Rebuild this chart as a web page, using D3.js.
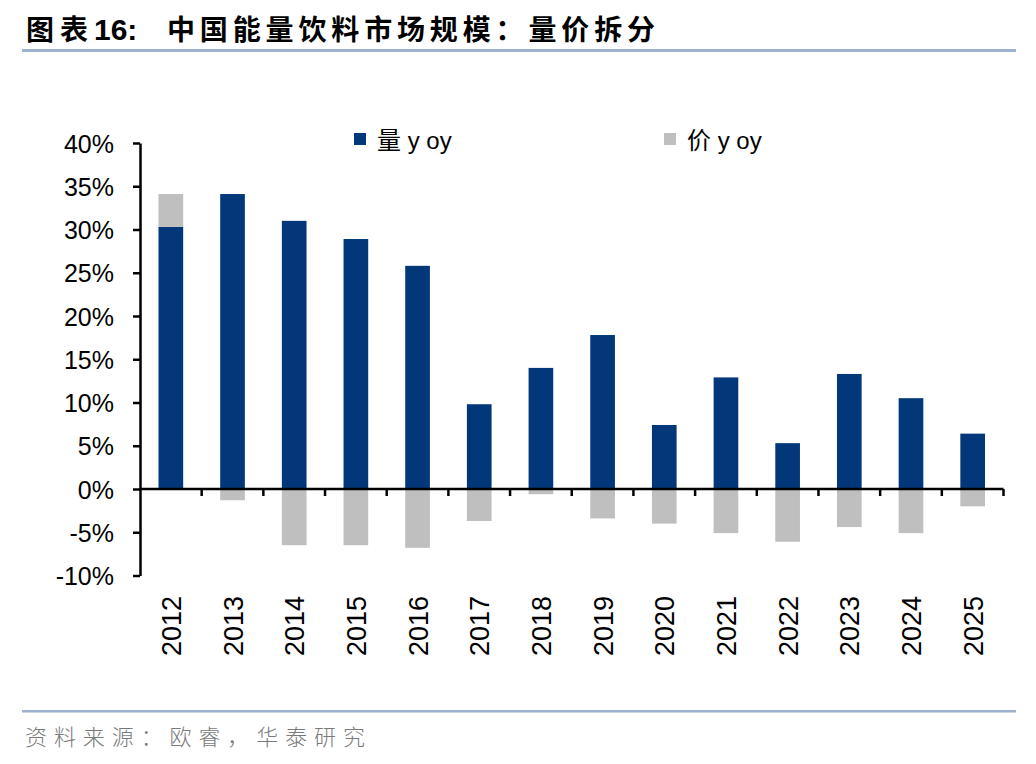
<!DOCTYPE html>
<html><head><meta charset="utf-8">
<script src="https://cdn.jsdelivr.net/npm/d3@7"></script>
<style>
html,body{margin:0;padding:0;background:#fff;}
svg{display:block;}
</style></head>
<body>
<svg id="c" width="1036" height="764"></svg>
<script>
const years = ["2012","2013","2014","2015","2016","2017","2018","2019","2020","2021","2022","2023","2024","2025"];
const volumeYoy = [30.3, 34.1, 31.0, 28.9, 25.8, 9.8, 14.0, 17.8, 7.4, 12.9, 5.3, 13.3, 10.5, 6.4];
const priceYoy  = [3.8, -1.3, -6.5, -6.5, -6.8, -3.7, -0.6, -3.4, -4.0, -5.1, -6.1, -4.4, -5.1, -2.0];
const yTicks = [-10, -5, 0, 5, 10, 15, 20, 25, 30, 35, 40];
const seriesNames = ["量 y oy", "价 y oy"];
const seriesKeys = ["vol", "price"];
const colors = ["#02387A", "#BFBFBF"];
const titlePrefix = "图表";
const titleNumber = "16:";
const titleMain = "中国能量饮料市场规模：量价拆分";
const sourceText = "资料来源：欧睿，华泰研究";

const svg = d3.select("#c");
const font = "'Liberation Sans', Arial, sans-serif";
const cjk = "'Noto Sans CJK SC', sans-serif";

// title
svg.append("text").attr("x", 26).attr("y", 40)
  .attr("font-family", cjk).attr("font-weight", "bold")
  .attr("font-size", 28).attr("fill", "#000")
  .attr("textLength", 62).attr("lengthAdjust", "spacing")
  .text(titlePrefix);
svg.append("text").attr("x", 94).attr("y", 40)
  .attr("font-family", font).attr("font-weight", "bold")
  .attr("font-size", 30).attr("fill", "#000")
  .text(titleNumber);
svg.append("text").attr("x", 167).attr("y", 40)
  .attr("font-family", cjk).attr("font-weight", "bold")
  .attr("font-size", 28).attr("fill", "#000")
  .attr("textLength", 488).attr("lengthAdjust", "spacing")
  .text(titleMain);
svg.append("rect").attr("x", 22).attr("y", 49).attr("width", 994).attr("height", 3).attr("fill", "#9CB2CC");

// footer
svg.append("rect").attr("x", 22).attr("y", 710).attr("width", 994).attr("height", 2.5).attr("fill", "#9CB2CC");
svg.append("text").attr("x", 25).attr("y", 745)
  .attr("font-family", cjk).attr("font-weight", 300)
  .attr("font-size", 22).attr("fill", "#7a7a7a")
  .attr("textLength", 340).attr("lengthAdjust", "spacing")
  .text(sourceText);

const x0 = 140, x1 = 1003.5;
const y = d3.scaleLinear().domain([-10, 40]).range([575.5, 143]);
const x = d3.scaleBand().domain(years).range([x0, x1]).paddingInner(0.6).paddingOuter(0.3);

const data = years.map((yr, i) => ({year: yr, vol: volumeYoy[i], price: priceYoy[i]}));
const stack = d3.stack().keys(seriesKeys).offset(d3.stackOffsetDiverging)(data);

const g = svg.append("g");
stack.forEach((s, si) => {
  g.append("g").attr("fill", colors[si]).selectAll("rect").data(s).join("rect")
    .attr("x", d => x(d.data.year))
    .attr("width", x.bandwidth())
    .attr("y", d => y(Math.max(d[0], d[1])))
    .attr("height", d => Math.abs(y(d[0]) - y(d[1])));
});

// y axis
const yAxis = d3.axisLeft(y).tickValues(yTicks).tickFormat(d => d + "%").tickSize(7).tickSizeOuter(0);
const ya = svg.append("g").attr("transform", `translate(${x0},0)`).call(yAxis);
ya.select(".domain").attr("stroke", "#000").attr("stroke-width", 2.5);
ya.selectAll(".tick line").attr("stroke", "#000").attr("stroke-width", 2.5);
ya.selectAll(".tick text").attr("font-family", font).attr("font-size", 25).attr("fill", "#000")
  .attr("x", -26).attr("dy", "0.36em");

// x axis at zero
const zeroY = y(0);
const xa = svg.append("g").attr("transform", `translate(0,${zeroY})`);
xa.append("line").attr("x1", x0).attr("x2", x1).attr("stroke", "#000").attr("stroke-width", 2.5);
const step = x.step();
const bounds = d3.range(1, years.length + 1).map(i => x0 + i * step);
xa.selectAll("line.tk").data(bounds).join("line").attr("class", "tk")
  .attr("x1", d => d).attr("x2", d => d).attr("y1", 0).attr("y2", 7)
  .attr("stroke", "#000").attr("stroke-width", 2.5);

// x labels
svg.append("g").selectAll("text").data(years).join("text")
  .attr("transform", d => `translate(${x(d) + x.bandwidth() / 2 + 10},596) rotate(-90)`)
  .attr("text-anchor", "end")
  .attr("font-family", font).attr("font-size", 27).attr("fill", "#000")
  .text(d => d);

// legend
const legendX = [354, 664];
seriesNames.forEach((n, i) => {
  svg.append("rect").attr("x", legendX[i]).attr("y", 133).attr("width", 12).attr("height", 12).attr("fill", colors[i]);
  svg.append("text").attr("x", legendX[i] + 23).attr("y", 149)
    .attr("font-family", "'Liberation Sans', 'Noto Sans CJK SC', sans-serif").attr("font-size", 24).attr("fill", "#000")
    .attr("xml:space", "preserve")
    .text(n);
});
</script>
</body></html>
